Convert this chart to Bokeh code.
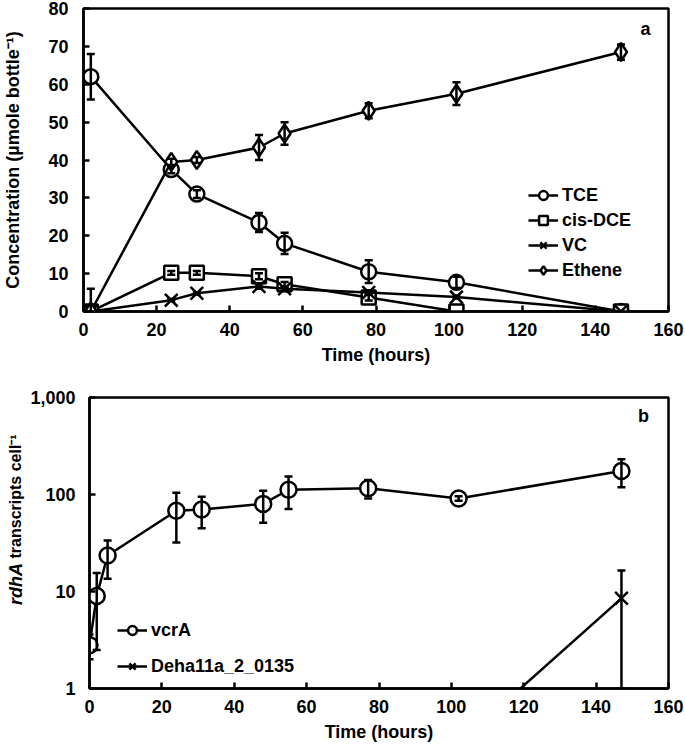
import numpy as np
from bokeh.plotting import figure
from bokeh.models import (Range1d, FixedTicker, NumeralTickFormatter, Legend, LegendItem,
                          Whisker, TeeHead, ColumnDataSource, Label)
from bokeh.core.properties import value
from bokeh.layouts import column, row
from bokeh.embed import file_html
from bokeh.resources import INLINE

# ---------------- data: panel a ----------------
time_a = [2, 24, 31, 48, 55, 78, 102, 147]
tce = [62, 37.5, 31, 23.5, 18, 10.5, 7.7, 0]
tce_sd = [6, 1, 1, 2.5, 2.8, 3, 1.5, 0]
cis_dce = [0, 10.2, 10.2, 9.3, 7.2, 3.7, 0, 0]
cis_dce_sd = [0, 0.5, 0.5, 0.8, 0.6, 0.8, 0, 0]
vc = [0, 3, 4.8, 6.6, 6, 5, 3.8, 0]
vc_sd = [0, 0.3, 0.3, 0.6, 0.6, 0.6, 0.4, 0]
ethene = [0, 39.5, 40, 43.3, 47, 53, 57.5, 68.5]
ethene_sd = [6, 0.8, 0.8, 3.3, 3, 2, 3, 2]

# ---------------- data: panel b ----------------
time_b = [0, 2, 5, 24, 31, 48, 55, 77, 102, 147]
vcra = [2.8, 9, 23.5, 68, 70, 80, 112, 116, 91, 175]
vcra_sd = [0.8, 6.5, 10, 36, 25, 29, 41, 25, 5, 56]
deha_time = [102, 147]
deha = [0.27, 8.5]
deha_sd = [0, 8]

x_ticks = [0, 20, 40, 60, 80, 100, 120, 140, 160]
ya_ticks = [0, 10, 20, 30, 40, 50, 60, 70, 80]
yb_ticks = [1, 10, 100, 1000]

FONT = "Liberation Sans"
LW = 2.5


def style(p):
    p.outline_line_color = "black"
    p.outline_line_width = LW
    p.outline_line_alpha = 1
    p.grid.visible = False
    p.background_fill_color = "white"
    p.border_fill_color = "white"
    for ax in [p.xaxis[0], p.yaxis[0]]:
        ax.axis_line_width = LW
        ax.axis_line_color = "black"
        ax.major_tick_in = 6
        ax.major_tick_out = 0
        ax.major_tick_line_width = LW
        ax.major_tick_line_color = "black"
        ax.minor_tick_in = 0
        ax.minor_tick_out = 0
        ax.major_label_text_font = FONT
        ax.major_label_text_font_size = "18px"
        ax.major_label_text_font_style = "bold"
        ax.major_label_text_color = "black"
        ax.axis_label_text_font = FONT
        ax.axis_label_text_font_size = "18px"
        ax.axis_label_text_font_style = "bold"
        ax.axis_label_text_color = "black"
    p.xaxis[0].major_label_standoff = 11
    p.xaxis[0].axis_label_standoff = 6
    p.yaxis[0].major_label_standoff = 15
    p.yaxis[0].axis_label_standoff = 22


def add_series(p, x, y, sd, marker, size, ymin, ymax):
    line = p.line(x, y, line_color="black", line_width=LW)
    sc = p.scatter(x, y, marker=marker, size=size, line_color="black",
                   line_width=LW, fill_color="white")
    xa = np.asarray(x, float)
    ya = np.asarray(y, float)
    sa = np.asarray(sd, float)
    m = sa > 0
    src = ColumnDataSource(dict(x=xa[m],
                                lo=np.clip(ya[m] - sa[m], ymin, ymax),
                                hi=np.clip(ya[m] + sa[m], ymin, ymax)))
    w = Whisker(source=src, base="x", lower="lo", upper="hi", line_color="black",
                line_width=LW, level="annotation",
                upper_head=TeeHead(size=8, line_width=LW, line_color="black"),
                lower_head=TeeHead(size=8, line_width=LW, line_color="black"))
    p.add_layout(w)
    return [line, sc]


def make_legend(items, loc, spacing):
    return Legend(items=items, location=loc, orientation="vertical", padding=0, margin=0,
                  spacing=spacing, label_height=22, glyph_height=22, glyph_width=30,
                  label_standoff=4, border_line_color=None, background_fill_alpha=0,
                  label_text_font=FONT, label_text_font_size="18px",
                  label_text_font_style="bold", label_text_color="black")


# ---------------- panel a ----------------
p1 = figure(width=685, height=372, x_range=Range1d(0, 160), y_range=Range1d(0, 80),
            min_border_left=83, min_border_right=17, min_border_top=8, min_border_bottom=61,
            output_backend="svg", toolbar_location=None)
style(p1)
p1.xaxis[0].ticker = FixedTicker(ticks=x_ticks, minor_ticks=[])
p1.yaxis[0].ticker = FixedTicker(ticks=ya_ticks, minor_ticks=[])
p1.xaxis[0].axis_label = "Time (hours)"
p1.yaxis[0].axis_label = "Concentration (µmole bottle⁻¹)"

r_tce = add_series(p1, time_a, tce, tce_sd, "circle", 15, 0, 80)
r_dce = add_series(p1, time_a, cis_dce, cis_dce_sd, "square", 14, 0, 80)
r_vc = add_series(p1, time_a, vc, vc_sd, "x", 18, 0, 80)
r_eth = add_series(p1, time_a, ethene, ethene_sd, "diamond", 18, 0, 80)

leg1 = make_legend([LegendItem(label="TCE", renderers=r_tce),
                    LegendItem(label="cis-DCE", renderers=r_dce),
                    LegendItem(label="VC", renderers=r_vc),
                    LegendItem(label="Ethene", renderers=r_eth)], (445, 30), 3)
p1.add_layout(leg1)
p1.add_layout(Label(x=153.7, y=74.7, text="a", text_align="center", text_baseline="middle",
                    text_font=FONT, text_font_size="18px", text_font_style="bold",
                    text_color="black"))

# ---------------- panel b ----------------
p2 = figure(width=658, height=376, x_range=Range1d(0, 160), y_range=Range1d(1, 1000),
            y_axis_type="log",
            min_border_left=60, min_border_right=17, min_border_top=25, min_border_bottom=60,
            output_backend="svg", toolbar_location=None)
style(p2)
p2.yaxis[0].major_label_standoff = 14
p2.xaxis[0].ticker = FixedTicker(ticks=x_ticks, minor_ticks=[])
p2.yaxis[0].ticker = FixedTicker(ticks=yb_ticks, minor_ticks=[])
p2.yaxis[0].formatter = NumeralTickFormatter(format="0,0")
p2.xaxis[0].axis_label = "Time (hours)"

r_vcra = add_series(p2, time_b, vcra, vcra_sd, "circle", 16, 1, 1000)
r_deha = add_series(p2, deha_time, deha, deha_sd, "x", 18, 1, 1000)

leg2 = make_legend([LegendItem(label="vcrA", renderers=r_vcra),
                    LegendItem(label="Deha11a_2_0135", renderers=r_deha)], (28, 11), 14)
p2.add_layout(leg2)
p2.add_layout(Label(x=153.1, y=652, text="b", text_align="center", text_baseline="middle",
                    text_font=FONT, text_font_size="18px", text_font_style="bold",
                    text_color="black"))

# narrow strip carrying the y-axis title of panel b (italic gene name + plain text)
lab = figure(width=27, height=376, x_range=Range1d(0, 27), y_range=Range1d(0, 376),
             min_border=0, output_backend="svg", toolbar_location=None,
             x_axis_location=None, y_axis_location=None)
lab.outline_line_color = None
lab.grid.visible = False
lab.text(x=[15], y=[108], text=["rdhA"], angle=np.pi / 2, text_align="left",
         text_baseline="middle", text_font=value(FONT), text_font_size="18px",
         text_font_style="bold italic", text_color="black")
lab.text(x=[15], y=[168], text=["transcripts cell⁻¹"], angle=np.pi / 2, text_align="left",
         text_baseline="middle", text_font=value(FONT), text_font_size="16px",
         text_font_style="bold", text_color="black")

layout = column(p1, row(lab, p2))
open("out.html", "w").write(file_html(layout, INLINE))
